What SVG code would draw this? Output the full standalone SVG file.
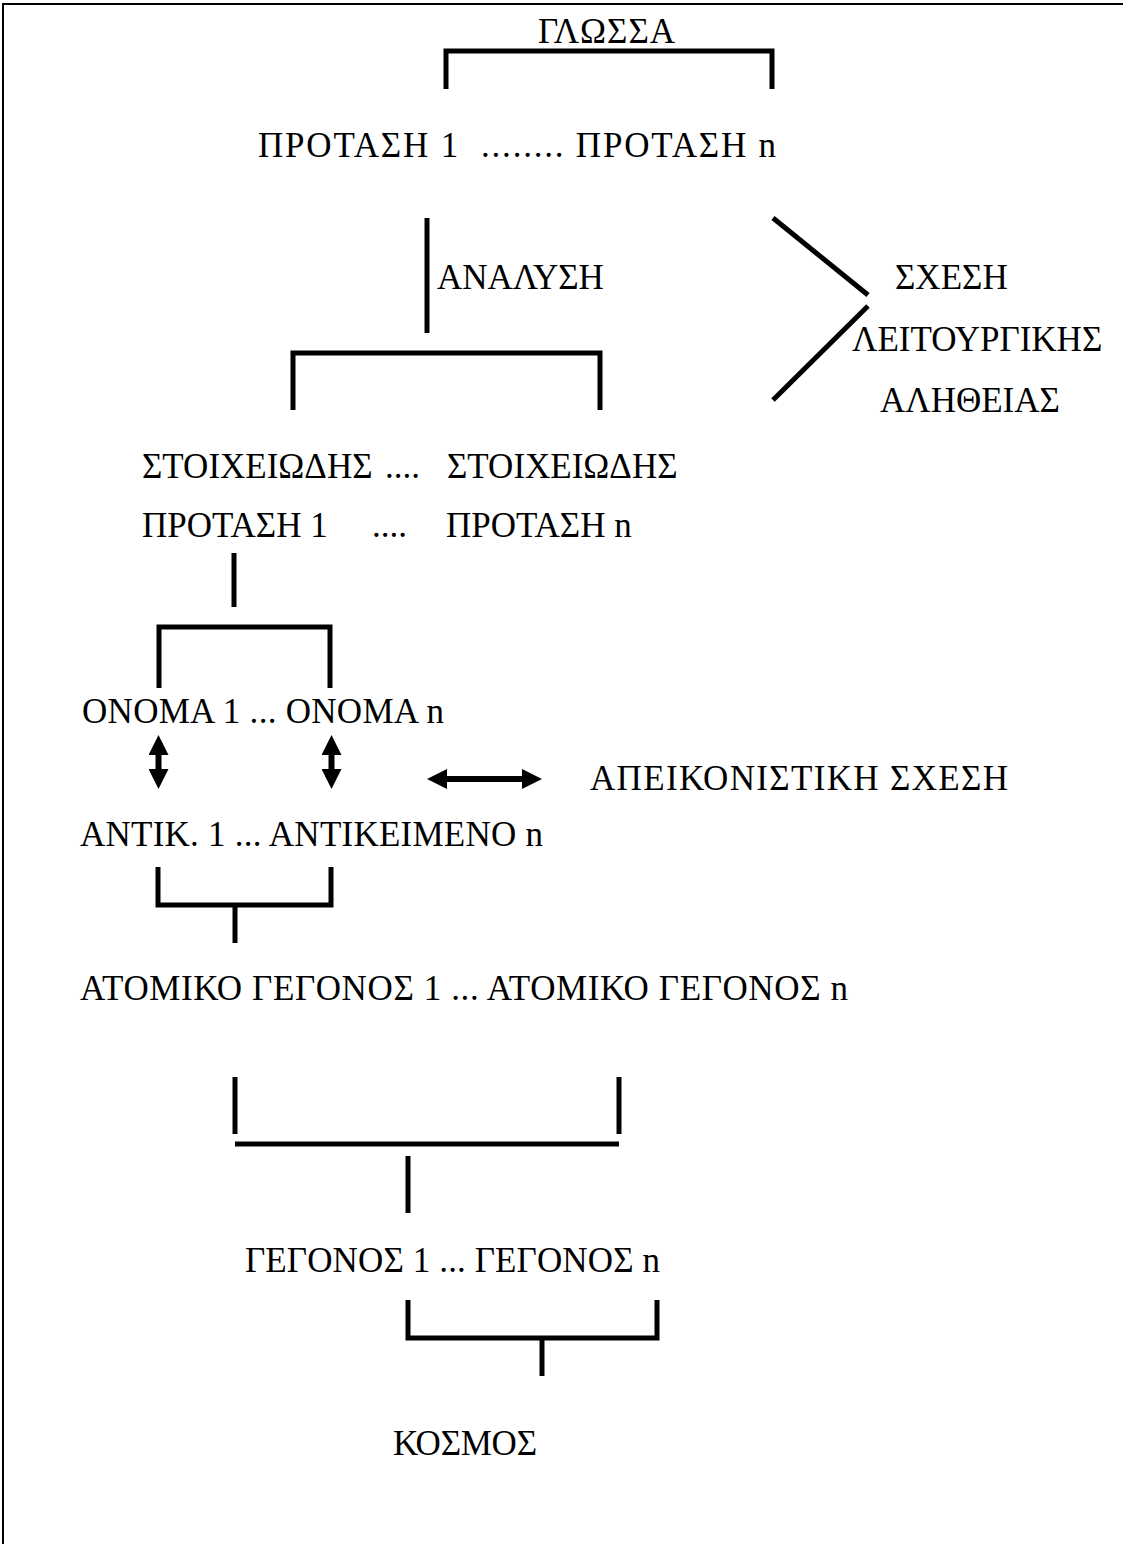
<svg xmlns="http://www.w3.org/2000/svg" width="1123" height="1544" viewBox="0 0 1123 1544">
<style>
.t{font-family:"Liberation Serif","Times New Roman",serif;font-size:35px;fill:#000}
.ln{stroke:#000;stroke-width:5;fill:none;stroke-linecap:butt}
.ar{stroke:#000;stroke-width:6;fill:none;stroke-linecap:butt}
.br{stroke:#000;stroke-width:2;fill:none}
</style>
<defs>
<marker id="ah" markerUnits="userSpaceOnUse" markerWidth="20" markerHeight="20" viewBox="0 0 20 20" refX="6" refY="10" orient="auto-start-reverse">
<path d="M0,0 L20,10 L0,20 z" fill="#000"/>
</marker>
</defs>
<rect width="1123" height="1544" fill="#fff"/>
<g id="frame"><path class="br" d="M3,1544 V4 H1123"/></g>

<g id="n-glossa"><text class="t" x="538" y="43" textLength="137" lengthAdjust="spacing">ΓΛΩΣΣΑ</text></g>
<g id="n-protaseis"><text class="t" x="258" y="157" xml:space="preserve" textLength="518" lengthAdjust="spacing">ΠΡΟΤΑΣΗ 1  ........ ΠΡΟΤΑΣΗ n</text></g>
<g id="n-analysi"><text class="t" x="437" y="289">ΑΝΑΛΥΣΗ</text></g>
<g id="n-schesi"><text class="t" x="895" y="289">ΣΧΕΣΗ</text><text class="t" x="852" y="351">ΛΕΙΤΟΥΡΓΙΚΗΣ</text><text class="t" x="880" y="412">ΑΛΗΘΕΙΑΣ</text></g>
<g id="n-stoicheiodeis"><text class="t" x="142" y="478">ΣΤΟΙΧΕΙΩΔΗΣ</text><text class="t" x="385" y="478">....</text><text class="t" x="447" y="478">ΣΤΟΙΧΕΙΩΔΗΣ</text>
<text class="t" x="142" y="537">ΠΡΟΤΑΣΗ 1</text><text class="t" x="372" y="537">....</text><text class="t" x="446" y="537">ΠΡΟΤΑΣΗ n</text></g>
<g id="n-onoma"><text class="t" x="82" y="723" textLength="362" lengthAdjust="spacing">ΟΝΟΜΑ 1 ... ΟΝΟΜΑ n</text></g>
<g id="n-apeikonistiki"><text class="t" x="590" y="790" textLength="418" lengthAdjust="spacing">ΑΠΕΙΚΟΝΙΣΤΙΚΗ ΣΧΕΣΗ</text></g>
<g id="n-antikeimeno"><text class="t" x="80" y="846" textLength="463" lengthAdjust="spacing">ΑΝΤΙΚ. 1 ... ΑΝΤΙΚΕΙΜΕΝΟ n</text></g>
<g id="n-atomiko"><text class="t" x="80" y="1000" textLength="768" lengthAdjust="spacing">ΑΤΟΜΙΚΟ ΓΕΓΟΝΟΣ 1 ... ΑΤΟΜΙΚΟ ΓΕΓΟΝΟΣ n</text></g>
<g id="n-gegonos"><text class="t" x="245" y="1272" textLength="415" lengthAdjust="spacing">ΓΕΓΟΝΟΣ 1 ... ΓΕΓΟΝΟΣ n</text></g>
<g id="n-kosmos"><text class="t" x="393" y="1455" textLength="144" lengthAdjust="spacing">ΚΟΣΜΟΣ</text></g>

<g id="connectors">
<path class="ln" d="M446,89 V51 H772 V89"/>
<path class="ln" d="M427,218 V333"/>
<path class="ln" d="M293,410 V353 H600 V410"/>
<path class="ln" d="M773,218 L868,295"/>
<path class="ln" d="M868,306 L773,400"/>
<path class="ln" d="M234,553 V607"/>
<path class="ln" d="M159,688 V627 H330 V688"/>
<path class="ar" d="M158.5,749 V775" marker-start="url(#ah)" marker-end="url(#ah)"/>
<path class="ar" d="M331.5,749 V775" marker-start="url(#ah)" marker-end="url(#ah)"/>
<path class="ar" d="M441,779 H528" marker-start="url(#ah)" marker-end="url(#ah)"/>
<path class="ln" d="M158,867 V905 H331 V867"/>
<path class="ln" d="M235,905 V943"/>
<path class="ln" d="M235,1077 V1134"/>
<path class="ln" d="M619,1077 V1134"/>
<path class="ln" d="M235,1144 H619"/>
<path class="ln" d="M408,1156 V1213"/>
<path class="ln" d="M408,1300 V1338 H657 V1300"/>
<path class="ln" d="M542,1338 V1376"/>
</g>
</svg>
